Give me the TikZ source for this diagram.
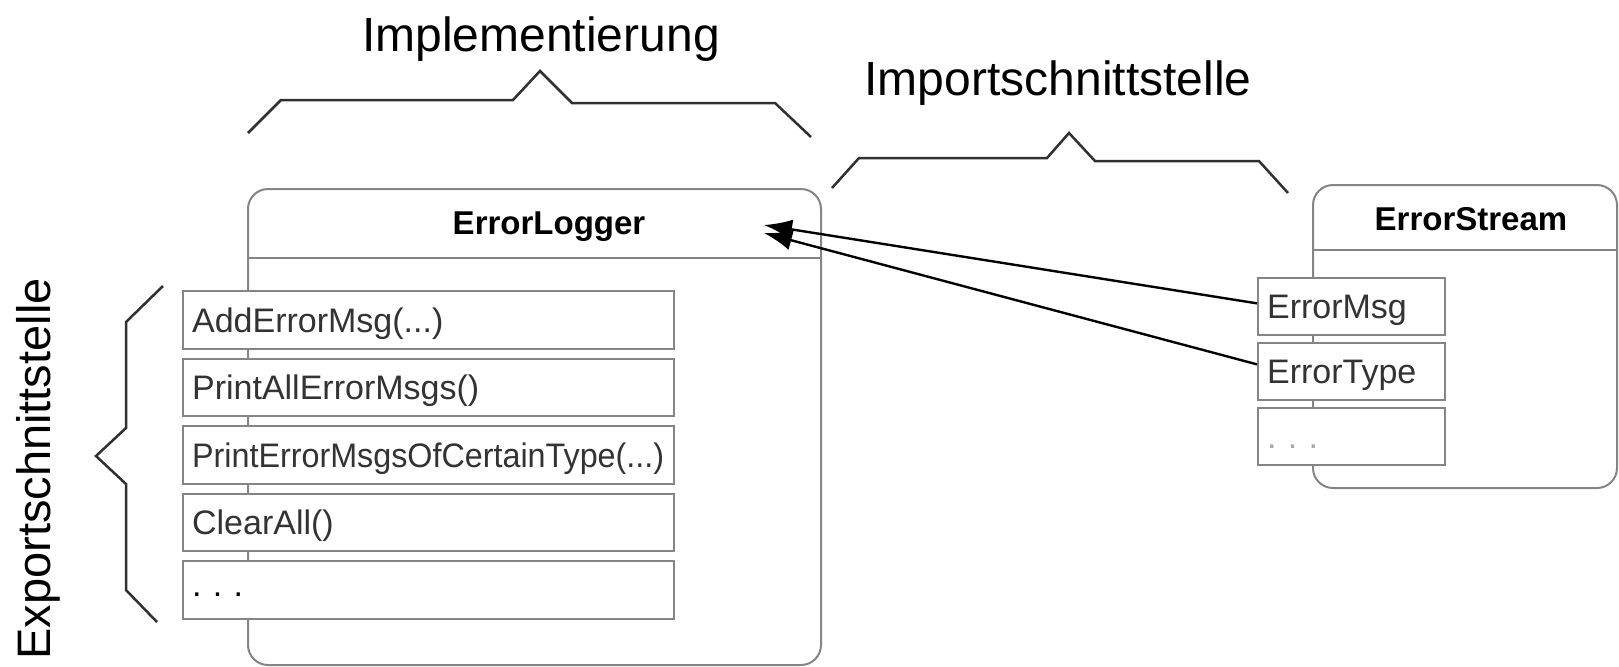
\documentclass[tikz,border=0pt]{standalone}
\usepackage{fontspec}
\setmainfont{Liberation Sans}
\usetikzlibrary{arrows.meta,calc}
\definecolor{boxgray}{HTML}{858585}
\definecolor{txtgray}{HTML}{333333}
\definecolor{bracegray}{HTML}{303030}
\definecolor{dotgray}{HTML}{A8A8A8}
\frenchspacing
\begin{document}
\begin{tikzpicture}[x=0.5pt,y=-0.5pt,
  outerbox/.style={draw=boxgray, line width=1pt, rounded corners=10pt, anchor=north west, inner sep=0pt},
  mbox/.style={draw=boxgray, line width=1.1pt, fill=white, anchor=north west,
    minimum width=245.5pt, minimum height=28.75pt, inner xsep=4.5pt, inner ysep=0pt,
    text width=236.5pt, align=left, text height=12.2pt, text depth=0pt,
    font=\fontsize{17pt}{20pt}\selectfont, text=txtgray},
  abox/.style={mbox, minimum width=93.5pt, text width=84.5pt, minimum height=28.25pt},
  titletext/.style={anchor=base, inner sep=0pt, font=\fontsize{16.5pt}{20pt}\selectfont\bfseries},
  bigtext/.style={anchor=base, inner sep=0pt, font=\fontsize{24pt}{28pt}\selectfont},
  bracel/.style={draw=bracegray, line width=1.25pt, line join=miter},
  conn/.style={draw=black, line width=1.2pt, -{Latex[length=14pt,width=10pt]}}
]
\useasboundingbox (0,0) rectangle (1619,666);

% labels
\node[bigtext] (impl) at (541,51) {Implementierung};
\node[bigtext] (imp) at (1058,95) {Importschnittstelle};
\node[bigtext, rotate=90, font=\fontsize{23.5pt}{28pt}\selectfont] (exp) at (50,469) {Exportschnittstelle};

% braces
\draw[bracel] (248,133) -- (281,100) -- (513,100) -- (540,71) -- (572,103) -- (775,103) -- (811,137);
\draw[bracel] (832,188) -- (859,158) -- (1047,158) -- (1069,133) -- (1095,161) -- (1259,161) -- (1288,193);
\draw[bracel] (163,286) -- (126,322) -- (126,428) -- (96,456) -- (126,484) -- (126,590) -- (157,622);

% ErrorLogger
\node[outerbox, minimum width=286.5pt, minimum height=238pt] (el) at (247,188) {};
\draw[draw=boxgray, line width=1pt] ($(el.north west)+(0,70)$) -- ($(el.north east)+(0,70)$);
\node[titletext] (elt) at (549,234) {ErrorLogger};
\node[mbox] (m1) at (182,290) {AddErrorMsg(...)};
\node[mbox] (m2) at (182,357.5) {PrintAllErrorMsgs()};
\node[mbox] (m3) at (182,425) {\scalebox{0.95}[1]{PrintErrorMsgsOfCertainType(...)}};
\node[mbox] (m4) at (182,492.5) {ClearAll()};
\node[mbox, text=black] (m5) at (182,560) {\raisebox{3pt}{. . .}};

% ErrorStream
\node[outerbox, minimum width=152pt, minimum height=151.5pt] (es) at (1312,184) {};
\draw[draw=boxgray, line width=1pt] ($(es.north west)+(0,66)$) -- ($(es.north east)+(0,66)$);
\node[titletext] (est) at (1471,230) {ErrorStream};
\node[abox] (em) at (1257,277) {ErrorMsg};
\node[abox] (et) at (1257,342) {ErrorType};
\node[abox, text=dotgray] (ed) at (1257,407) {. . .};

% connectors
\coordinate (tip1) at (764,225);
\coordinate (tip2) at (764,233);
\draw[conn] ([yshift=1.5pt]em.west) -- (tip1);
\draw[conn] ([yshift=3.5pt]et.west) -- (tip2);
\end{tikzpicture}
\end{document}
